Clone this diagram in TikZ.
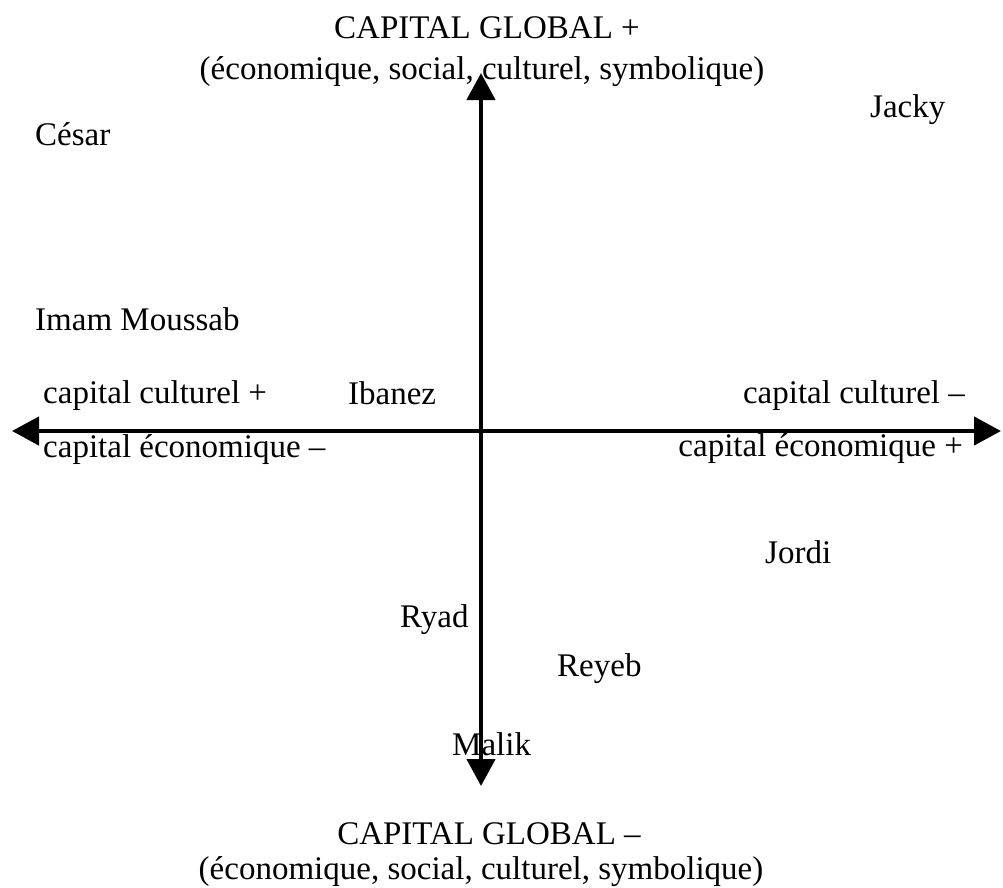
\documentclass[tikz,border=0pt]{standalone}
\usepackage{fontspec}
\setmainfont{Liberation Serif}
\usetikzlibrary{arrows.meta}
\begin{document}
\begin{tikzpicture}[x=1pt,y=-1pt,
  lbl/.style={inner sep=0pt,font=\fontsize{33}{40}\selectfont},
  axis/.style={line width=4.5pt,-{Triangle[length=27pt,width=28pt]}}]
\useasboundingbox (0,0) rectangle (1003,887);
\coordinate (O) at (481,431);
\coordinate (top) at (481,73);
\coordinate (bot) at (481,786);
\coordinate (left) at (12,431);
\coordinate (right) at (1001,431);
\draw[axis] (O) -- (top);
\draw[axis] (O) -- (bot);
\draw[axis] (O) -- (left);
\draw[axis] (O) -- (right);
% axis titles
\node[lbl,anchor=base] (tt1) at (487,38) {CAPITAL GLOBAL +};
\node[lbl,anchor=base] (tt2) at (482,79) {(économique, social, culturel, symbolique)};
\node[lbl,anchor=base] (bt1) at (489,844) {CAPITAL GLOBAL –};
\node[lbl,anchor=base] (bt2) at (481,879) {(économique, social, culturel, symbolique)};
\node[lbl,anchor=base west] (cc1) at (43,403) {capital culturel +};
\node[lbl,anchor=base west] (ce1) at (43,457) {capital économique –};
\node[lbl,anchor=base east] (cc2) at (965,403) {capital culturel –};
\node[lbl,anchor=base east] (ce2) at (963,456) {capital économique +};
% persons
\node[lbl,anchor=base west] (cesar) at (35,145) {César};
\node[lbl,anchor=base west] (imam) at (35,330) {Imam Moussab};
\node[lbl,anchor=base west] (jacky) at (870,117) {Jacky};
\node[lbl,anchor=base west] (ibanez) at (348,404) {Ibanez};
\node[lbl,anchor=base west] (jordi) at (765,563) {Jordi};
\node[lbl,anchor=base west] (ryad) at (400,627) {Ryad};
\node[lbl,anchor=base west] (reyeb) at (557,676) {Reyeb};
\node[lbl,anchor=base west] (malik) at (452,755) {Malik};
\end{tikzpicture}
\end{document}
